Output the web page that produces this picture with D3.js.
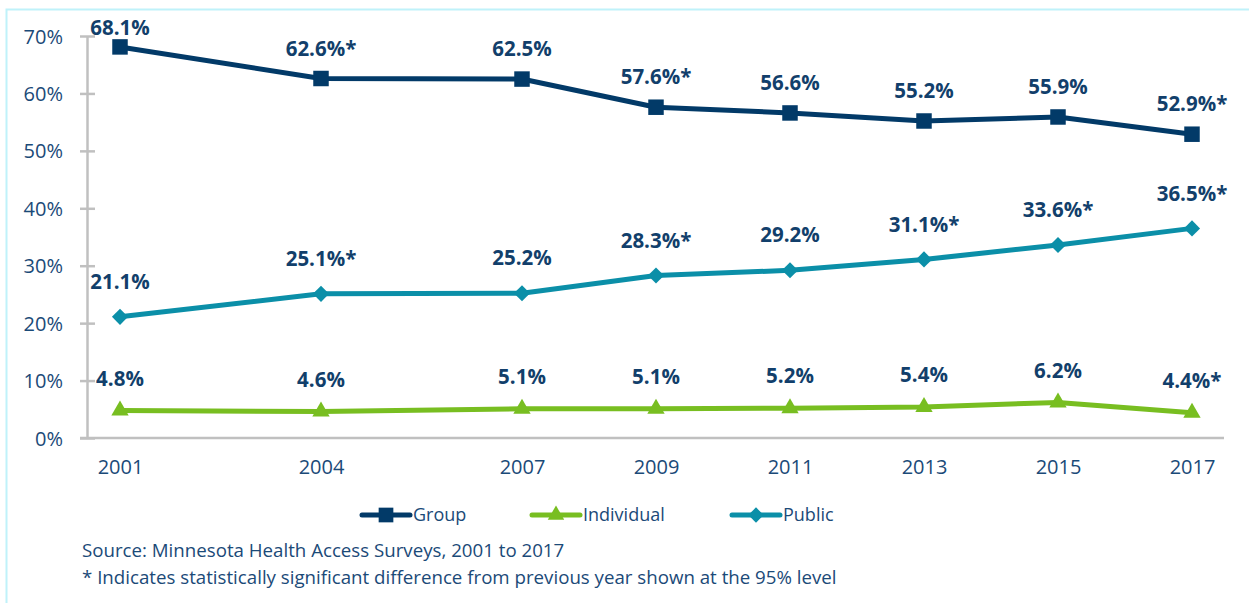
<!DOCTYPE html>
<html>
<head>
<meta charset="utf-8">
<script src="https://cdn.jsdelivr.net/npm/d3@7"></script>
<style>
  body { margin: 0; background: #fff; }
  svg text { font-family: "Open Sans", sans-serif; }
</style>
</head>
<body>
<div id="chart" style="width:1249px;height:603px;"></div>
<script>
const years = [2001, 2004, 2007, 2009, 2011, 2013, 2015, 2017];
const groupVals = [68.1, 62.6, 62.5, 57.6, 56.6, 55.2, 55.9, 52.9];
const individualVals = [4.8, 4.6, 5.1, 5.1, 5.2, 5.4, 6.2, 4.4];
const publicVals = [21.1, 25.1, 25.2, 28.3, 29.2, 31.1, 33.6, 36.5];
const groupSig = [false, true, false, true, false, false, false, true];
const individualSig = [false, false, false, false, false, false, false, true];
const publicSig = [false, true, false, true, false, true, true, true];
const yTicks = [0, 10, 20, 30, 40, 50, 60, 70];
const sourceLines = [
    "Source: Minnesota Health Access Surveys, 2001 to 2017",
    "* Indicates statistically significant difference from previous year shown at the 95% level"
];

const width = 1249, height = 603;
const textColor = "#1b4a78";
const labelColor = "#123f6b";
const axisColor = "#c0c0c0";

const svg = d3.select("#chart").append("svg")
    .attr("width", width)
    .attr("height", height);

// light frame
svg.append("rect")
    .attr("x", 6.5).attr("y", 9.5)
    .attr("width", 1300).attr("height", 700)
    .attr("fill", "none")
    .attr("stroke", "#bff2fa")
    .attr("stroke-width", 2);

const x = d3.scaleLinear().domain([2001, 2017]).range([120, 1192]);
const y = d3.scaleLinear().domain([0, 70]).range([438, 36]);

// y axis
const yAxis = svg.append("g").attr("transform", "translate(87,0)")
    .call(d3.axisLeft(y).tickValues(yTicks).tickSize(0).tickPadding(24).tickFormat(d => d + "%"));
yAxis.select(".domain").attr("stroke", axisColor).attr("stroke-width", 2.5);
yAxis.selectAll(".tick line").attr("x1", -7).attr("x2", 8).attr("stroke", axisColor).attr("stroke-width", 2.5);
yAxis.selectAll(".tick text").attr("fill", textColor).style("font-size", "20px").attr("dy", "0.35em");

// x axis
svg.append("line")
    .attr("x1", 80).attr("x2", 1224)
    .attr("y1", y(0)).attr("y2", y(0))
    .attr("stroke", axisColor).attr("stroke-width", 2.5);
const xAxis = svg.append("g").attr("transform", `translate(0,${y(0)})`)
    .call(d3.axisBottom(x).tickValues(years).tickSize(0).tickPadding(22).tickFormat(d => String(d)));
xAxis.select(".domain").remove();
xAxis.selectAll(".tick text").attr("fill", textColor).style("font-size", "20px");

const series = [
    { name: "Group", vals: groupVals, sig: groupSig, color: "#023a68", marker: d3.symbolSquare, size: 240, rot: 0, off: 30, lx: 362 },
    { name: "Individual", vals: individualVals, sig: individualSig, color: "#78be21", marker: d3.symbolTriangle, size: 130, rot: 0, off: 32, lx: 532 },
    { name: "Public", vals: publicVals, sig: publicSig, color: "#0b8fa8", marker: d3.symbolSquare, size: 130, rot: 45, off: 35, lx: 732 }
];

const line = d3.line().x(d => x(d.year)).y(d => y(d.v));

series.forEach(s => {
    const pts = years.map((yr, i) => ({ year: yr, v: s.vals[i], sig: s.sig[i] }));
    svg.append("path")
        .datum(pts)
        .attr("d", line)
        .attr("fill", "none")
        .attr("stroke", s.color)
        .attr("stroke-width", 5)
        .attr("stroke-linejoin", "round");
    svg.selectAll(null).data(pts).join("path")
        .attr("transform", d => `translate(${x(d.year)},${y(d.v)}) rotate(${s.rot})`)
        .attr("d", d3.symbol(s.marker, s.size))
        .attr("fill", s.color);
    svg.selectAll(null).data(pts).join("text")
        .attr("x", d => x(d.year))
        .attr("y", d => Math.max(y(d.v) - s.off, 28))
        .attr("dy", "0.35em")
        .attr("text-anchor", "middle")
        .attr("fill", labelColor)
        .style("font-size", "20.5px")
        .style("font-weight", "bold")
        .text(d => d.v.toFixed(1) + "%" + (d.sig ? "*" : ""));

    // legend
    const lg = svg.append("g").attr("transform", `translate(${s.lx},515)`);
    lg.append("line").attr("x1", 0).attr("x2", 48)
        .attr("stroke", s.color).attr("stroke-width", 5).attr("stroke-linecap", "round");
    lg.append("path").attr("transform", `translate(24,0) rotate(${s.rot})`)
        .attr("d", d3.symbol(s.marker, s.size * 0.9)).attr("fill", s.color);
    lg.append("text").attr("x", 51).attr("dy", "0.35em")
        .attr("fill", textColor).style("font-size", "18px").text(s.name);
});

svg.selectAll(".src").data(sourceLines).join("text")
    .attr("class", "src")
    .attr("x", 82)
    .attr("y", (d, i) => 550 + i * 27)
    .attr("dy", "0.35em")
    .attr("fill", textColor)
    .style("font-size", "18.7px")
    .text(d => d);
</script>
</body>
</html>
